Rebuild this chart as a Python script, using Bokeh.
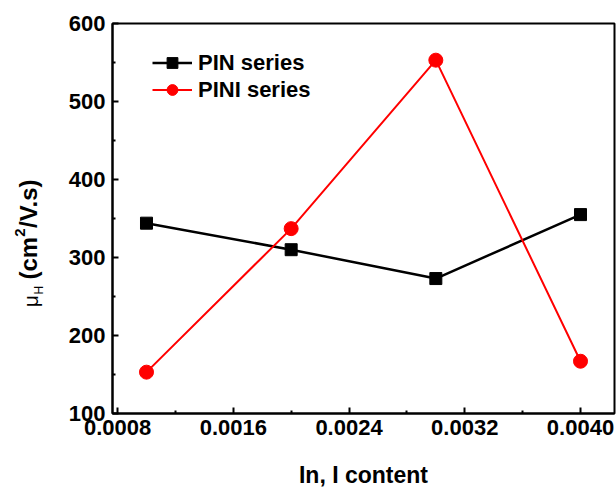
from math import pi

from bokeh.core.properties import value
from bokeh.embed import file_html
from bokeh.layouts import row
from bokeh.models import FixedTicker, Legend, LegendItem, Range1d
from bokeh.plotting import figure
from bokeh.resources import INLINE

# Hall mobility versus dopant content for the two sample series
content = [0.001, 0.002, 0.003, 0.004]
pin_mobility = [344, 310, 273, 355]
pini_mobility = [153, 337, 553, 167]

x_major = [0.0008, 0.0016, 0.0024, 0.0032, 0.0040]
x_minor = [0.0012, 0.0020, 0.0028, 0.0036]
x_tick_labels = ["0.0008", "0.0016", "0.0024", "0.0032", "0.0040"]
y_major = [100, 200, 300, 400, 500, 600]
y_minor = [150, 250, 350, 450, 550]

FONT = "Liberation Sans"
W, H = 616, 487
TITLE_W = 60  # strip on the left that holds the rotated y title

# frame geometry (page pixels)
LEFT, RIGHT, TOP, BOTTOM = 112, 614, 23, 413

# ---- y-axis title strip: mu with subscript H, units with superscript 2 ----
# the row aligns this strip's frame with the chart frame, so its y range
# spans the frame's page rows and positions below are page pixels
t = figure(
    width=TITLE_W, height=H, min_border=0,
    min_border_left=0, min_border_right=0, min_border_top=0, min_border_bottom=0,
    x_range=Range1d(0, TITLE_W), y_range=Range1d(BOTTOM, TOP),
    x_axis_type=None, y_axis_type=None,
    output_backend="svg", toolbar_location=None,
    background_fill_color="white", border_fill_color="white",
)
t.grid.visible = False
t.outline_line_color = None

pieces = [
    # text, x, y (page px), size, style
    ("\u03bc", 30, 309, "21px", "normal"),
    ("H", 38, 296, "12px", "normal"),
    ("(cm", 28, 281, "24px", "bold"),
    ("2", 19, 238, "15px", "bold"),
    ("/V.s)", 28, 229, "24px", "bold"),
]
for txt, px, py, size, style in pieces:
    t.text(x=[px], y=[py], text=[txt], angle=pi / 2,
           text_align="left", text_baseline="middle",
           text_font=value(FONT), text_font_style=style,
           text_font_size=size, text_color="black")

# ---- main chart ----
p = figure(
    width=W - TITLE_W, height=H,
    frame_width=RIGHT - LEFT, frame_height=BOTTOM - TOP,
    min_border_left=LEFT - TITLE_W, min_border_right=W - RIGHT,
    min_border_top=TOP, min_border_bottom=H - BOTTOM,
    x_range=Range1d(0.000765, 0.004235),
    y_range=Range1d(100, 600),
    output_backend="svg", toolbar_location=None,
    background_fill_color="white", border_fill_color="white",
)
p.grid.visible = False
p.outline_line_color = "black"
p.outline_line_width = 2

for ax in (p.xaxis[0], p.yaxis[0]):
    ax.axis_line_width = 2
    ax.major_tick_line_width = 2
    ax.minor_tick_line_width = 2
    ax.major_tick_in = 6
    ax.major_tick_out = 0
    ax.minor_tick_in = 3
    ax.minor_tick_out = 0
    ax.major_label_text_font = FONT
    ax.major_label_text_font_style = "bold"
    ax.major_label_text_font_size = "22px"
    ax.major_label_text_color = "black"

p.xaxis.ticker = FixedTicker(ticks=x_major, minor_ticks=x_minor)
p.xaxis.major_label_overrides = {t_: s for t_, s in zip(x_major, x_tick_labels)}
p.xaxis.major_label_standoff = 6
p.xaxis.axis_label = "In, I content"
p.xaxis.axis_label_text_font = FONT
p.xaxis.axis_label_text_font_style = "bold"
p.xaxis.axis_label_text_font_size = "23px"
p.xaxis.axis_label_text_color = "black"
p.xaxis.axis_label_standoff = 24

p.yaxis.ticker = FixedTicker(ticks=y_major, minor_ticks=y_minor)
p.yaxis.major_label_standoff = 7

# series
pin_line = p.line(content, pin_mobility, line_color="black", line_width=2.5)
pin_pts = p.scatter(content, pin_mobility, marker="square", size=12,
                    fill_color="black", line_color="black")
pini_line = p.line(content, pini_mobility, line_color="red", line_width=2)
pini_pts = p.scatter(content, pini_mobility, marker="circle", size=14,
                     fill_color="red", line_color="red")

legend = Legend(
    items=[
        LegendItem(label="PIN series", renderers=[pin_line, pin_pts]),
        LegendItem(label="PINI series", renderers=[pini_line, pini_pts]),
    ],
    location=(40, 310),
    border_line_color=None,
    background_fill_alpha=0,
    padding=0, margin=0, spacing=0,
    glyph_width=40, glyph_height=27, label_standoff=6,
    label_text_font=FONT, label_text_font_style="bold",
    label_text_font_size="22px", label_text_color="black",
)
p.add_layout(legend)

layout = row(t, p, spacing=0)
open("out.html", "w").write(file_html(layout, INLINE))
